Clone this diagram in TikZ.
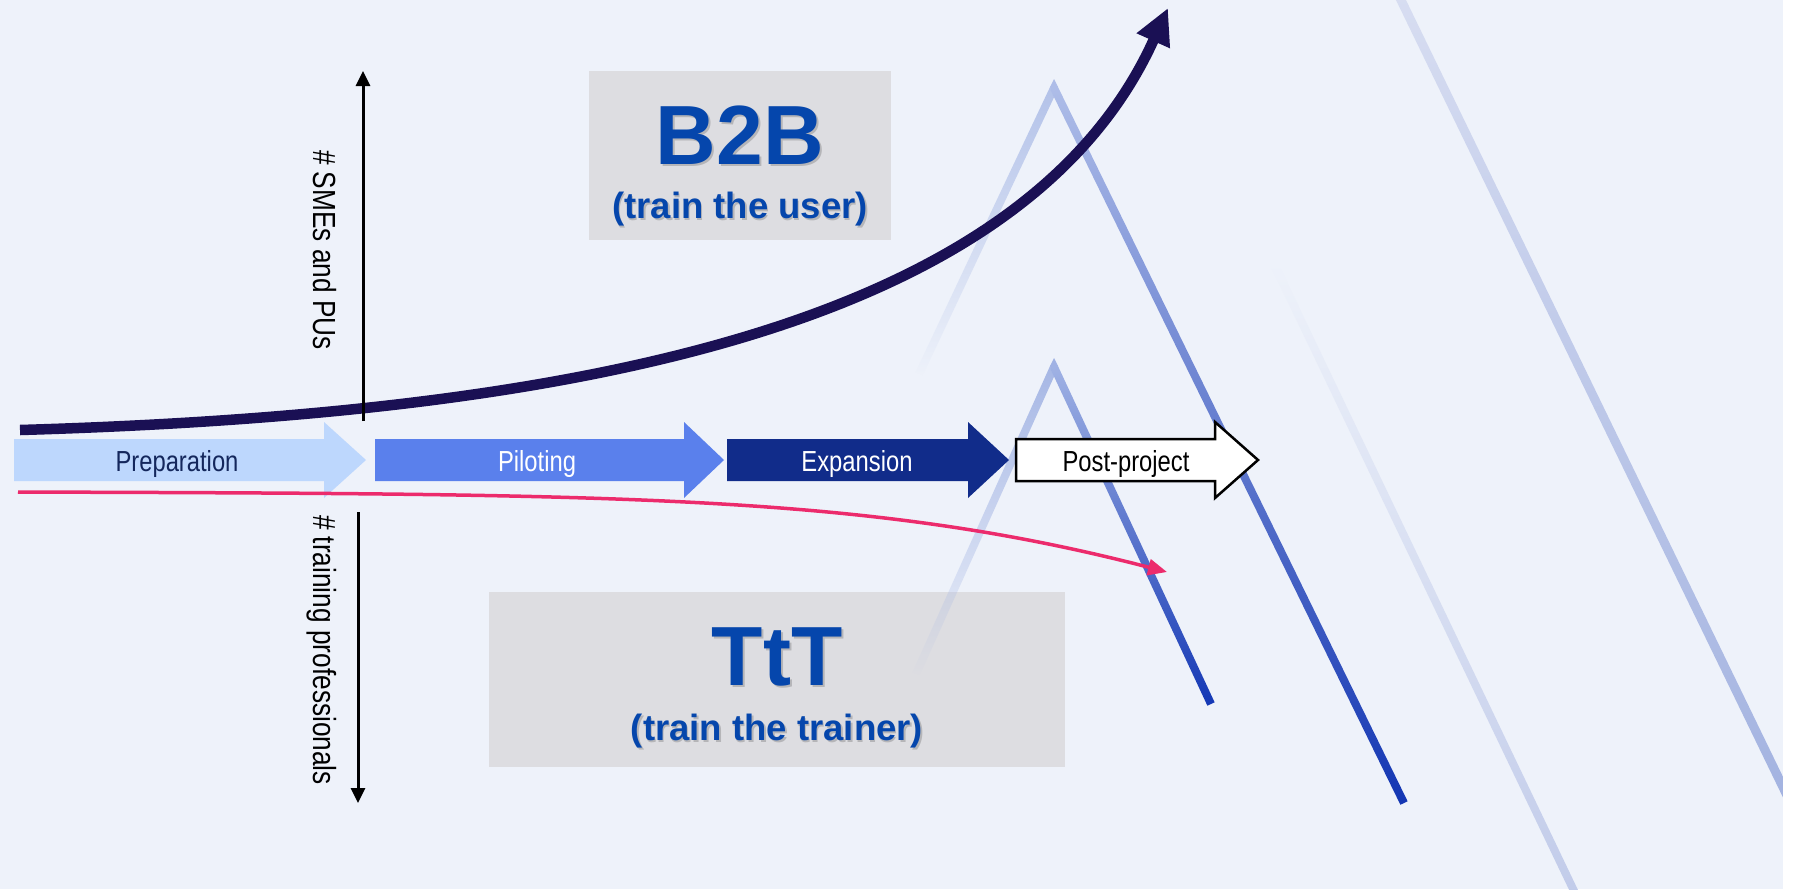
\documentclass[tikz,border=0pt]{standalone}
\usepackage{fontspec}
\setmainfont{Liberation Sans}
\newfontfamily\narrowfont[FakeStretch=0.82]{Liberation Sans}
\usetikzlibrary{arrows.meta,calc,fadings}
\definecolor{bgc}{HTML}{EEF2FA}
\definecolor{boxgray}{HTML}{DDDDE1}
\definecolor{titleblue}{HTML}{0546AC}
\definecolor{navyc}{HTML}{1A1054}
\definecolor{pinkc}{HTML}{EC2B6C}
\definecolor{prepc}{HTML}{BDD7FD}
\definecolor{prept}{HTML}{14275C}
\definecolor{pilotc}{HTML}{5A80EC}
\definecolor{expc}{HTML}{112C8A}
\definecolor{upRtop}{HTML}{AEBDE8}
\definecolor{upRbot}{HTML}{1336B3}
\definecolor{loRtop}{HTML}{A0B2E4}
\definecolor{loRbot}{HTML}{1438B5}
\definecolor{upLtop}{HTML}{B3C2E9}
\definecolor{loLtop}{HTML}{A6B7E5}
\definecolor{farTop}{HTML}{D7DDF1}
\definecolor{farBot}{HTML}{A2B2E0}
\definecolor{faintBot}{HTML}{C0CAE9}
\newcommand\glowseg[5]{\shade[top color=#4,bottom color=#5] ($(#1)!#3!90:(#2)$) -- ($(#2)!#3!-90:(#1)$) -- ($(#2)!#3!90:(#1)$) -- ($(#1)!#3!-90:(#2)$) -- cycle;}
\newcommand\fadeseg[4]{\fill[#4, path fading=south] ($(#1)!#3!90:(#2)$) -- ($(#2)!#3!-90:(#1)$) -- ($(#2)!#3!90:(#1)$) -- ($(#1)!#3!-90:(#2)$) -- cycle;}
\newcommand\phasearrow[4]{\path[#4] (#1,439) -- (#2,439) -- (#2,422) -- (#3,460) -- (#2,498) -- (#2,481) -- (#1,481) -- cycle;}
\begin{document}
\begin{tikzpicture}[x=1pt,y=-1pt,
  phaselabel/.style={font=\narrowfont\fontsize{29}{34}\selectfont, anchor=base, inner sep=0pt},
  axislabel/.style={font=\narrowfont\fontsize{32}{38}\selectfont, anchor=base, inner sep=0pt, rotate=-90},
  bigtitle/.style={font=\bfseries\fontsize{84}{96}\selectfont, text=titleblue, anchor=base, inner sep=0pt},
  subtitle/.style={font=\bfseries\fontsize{36.5}{42}\selectfont, text=titleblue, anchor=base, inner sep=0pt},
  shadowtext/.style={text=black, text opacity=0.18},
  graybox/.style={fill=boxgray, draw=none, inner sep=0pt, outer sep=0pt},
  axisarrow/.style={line width=3pt, -{Triangle[length=15pt,width=14pt]}},
]
\useasboundingbox (0,0) rectangle (1793,889);
\fill[bgc] (0,0) rectangle (1793,889);

% grey boxes
\node[graybox, minimum width=302pt, minimum height=169pt] (b2bbox) at (740,155.5) {};
\node[graybox, minimum width=576pt, minimum height=175pt] (tttbox) at (777,679.5) {};

% background decorative lines
\begin{scope}
\clip (0,0) rectangle (1783,889);
\glowseg{1273,262}{1586,916}{4pt}{bgc}{faintBot}
\glowseg{1399,-4}{1797,816}{4.5pt}{farTop}{farBot}
\end{scope}
\fadeseg{1054,88}{919,374}{4pt}{upLtop}
\glowseg{1054,88}{1404,803}{4pt}{upRtop}{upRbot}
\fill[upRtop] (1054,79) -- (1058,87) -- (1054,92) -- (1050,87) -- cycle;
\fadeseg{1054,367}{916,674}{4pt}{loLtop}
\glowseg{1054,367}{1211,704}{4pt}{loRtop}{loRbot}
\fill[loRtop] (1054,358) -- (1058,366) -- (1054,371) -- (1050,366) -- cycle;
\fill[white] (1783,0) rectangle (1793,889);

% phase arrows
\phasearrow{14}{324}{366}{fill=prepc}
\phasearrow{375}{684}{724}{fill=pilotc}
\phasearrow{727}{968}{1009}{fill=expc}
\phasearrow{1016}{1215}{1258}{fill=white, draw=black, line width=2.5pt, line join=miter}

% curves
\coordinate (b2bstart) at (20,430);
\coordinate (b2bend) at (1168,8);
\draw[navyc, line width=10.5pt, -{Triangle[length=36pt,width=34pt]}] (b2bstart) .. controls (565,414) and (1023,330) .. (b2bend);
\coordinate (tttstart) at (18,492);
\coordinate (tttend) at (1167,572);
\draw[pinkc, line width=3.5pt, -{Triangle[length=19pt,width=16pt]}] (tttstart) .. controls (619,494) and (867,494) .. (tttend);

% axes
\coordinate (upbottom) at (363,421);
\coordinate (uptop) at (363,71);
\draw[axisarrow] (upbottom) -- (uptop);
\coordinate (downtop) at (358,512);
\coordinate (downbottom) at (358,803);
\draw[axisarrow] (downtop) -- (downbottom);

% labels
\node[phaselabel, text=prept] (tprep) at (177,471) {Preparation};
\node[phaselabel, text=white] (tpilot) at (537,471) {Piloting};
\node[phaselabel, text=white] (texp) at (857,471) {Expansion};
\node[phaselabel, text=black] (tpost) at (1126,471) {Post-project};
\node[axislabel] (tsme) at (313,250) {\# SMEs and PUs};
\node[axislabel] (ttrain) at (313,650) {\# training professionals};

% titles with soft shadow
\node[bigtitle, shadowtext] (tb2bsh) at (742,166.5) {B2B};
\node[bigtitle] (tb2b) at (740,164) {B2B};
\node[subtitle, shadowtext] (tb2bsubsh) at (741.5,220) {(train the user)};
\node[subtitle] (tb2bsub) at (740,218) {(train the user)};
\node[bigtitle, shadowtext] (ttttsh) at (779,687.5) {TtT};
\node[bigtitle] (tttt) at (777,685) {TtT};
\node[subtitle, shadowtext] (ttttsubsh) at (778.5,742) {(train the trainer)};
\node[subtitle] (ttttsub) at (777,740) {(train the trainer)};
\end{tikzpicture}
\end{document}
